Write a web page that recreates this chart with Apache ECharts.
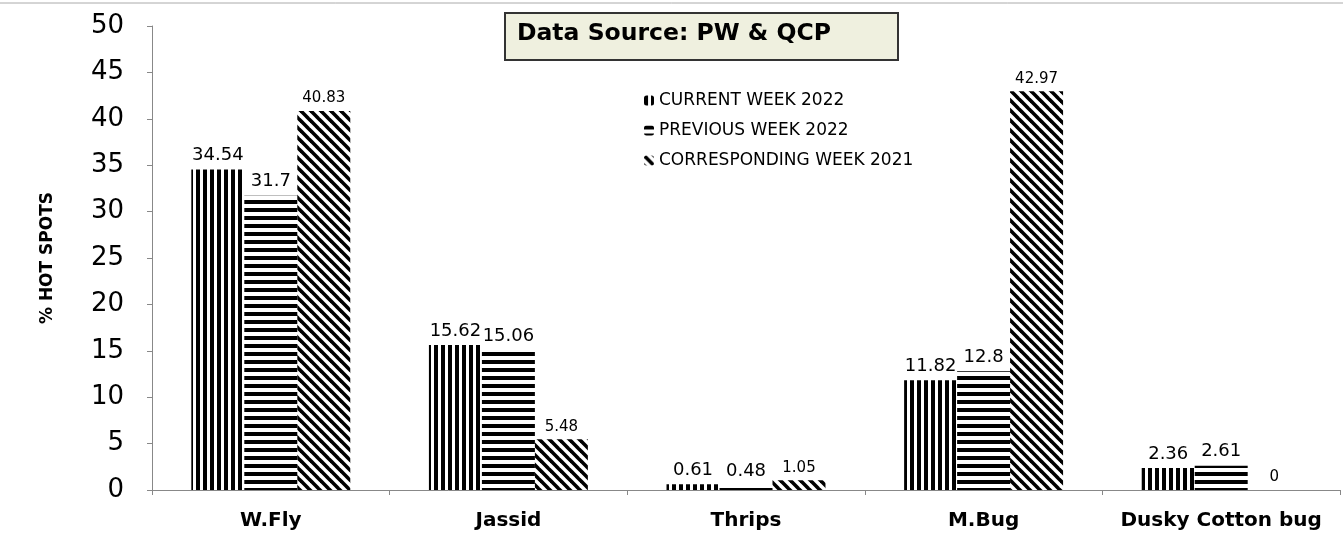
<!DOCTYPE html>
<html>
<head>
<meta charset="utf-8">
<script src="https://cdn.jsdelivr.net/npm/echarts@6/dist/echarts.min.js"></script>
<style>
  html, body { margin: 0; padding: 0; background: #fff; }
  #chart { width: 1343px; height: 537px; }
</style>
</head>
<body>
<div id="chart"></div>
<script>
var categories = ['W.Fly', 'Jassid', 'Thrips', 'M.Bug', 'Dusky Cotton bug'];
var seriesNames = ['CURRENT WEEK 2022', 'PREVIOUS WEEK 2022', 'CORRESPONDING WEEK 2021'];
var currentWeek = [34.54, 15.62, 0.61, 11.82, 2.36];
var previousWeek = [31.7, 15.06, 0.48, 12.8, 2.61];
var corrWeek = [40.83, 5.48, 1.05, 42.97, 0];
var yTicks = [0, 5, 10, 15, 20, 25, 30, 35, 40, 45, 50];

var font = 'DejaVu Sans';

// pattern tiles
function stripes(kind) {
  var c = document.createElement('canvas');
  var ctx = c.getContext('2d');
  ctx.fillStyle = '#000';
  if (kind == 'v') {
    c.width = 7; c.height = 7;
    ctx.fillRect(0, 0, 4, 7);
  } else if (kind == 'h') {
    c.width = 8; c.height = 8;
    ctx.fillRect(0, 0, 8, 4);
  } else {
    var s = 10;
    c.width = s; c.height = s;
    ctx.strokeStyle = '#000';
    ctx.lineWidth = 3.6;
    for (var k = -1; k <= 1; k++) {
      ctx.beginPath();
      ctx.moveTo(-1, k * s - 1);
      ctx.lineTo(s + 1, s + k * s + 1);
      ctx.stroke();
    }
  }
  return c;
}

var patterns = [stripes('v'), stripes('h'), stripes('d')];
var values = [currentWeek, previousWeek, corrWeek];
var labelSizes = [18, 18, 15];

var series = [];
for (var i = 0; i < 3; i++) {
  series.push({
    name: seriesNames[i],
    type: 'bar',
    data: values[i],
    barWidth: '22.3%',
    barGap: '0%',
    itemStyle: { color: { image: patterns[i], repeat: 'repeat' } },
    label: {
      show: true,
      position: 'top',
      distance: 5,
      color: '#000',
      fontFamily: font,
      fontSize: labelSizes[i]
    }
  })
}

var myChart = echarts.init(document.getElementById('chart'));
myChart.setOption({
  animation: false,
  grid: { left: 152, right: 3, top: 26, bottom: 47, containLabel: false },
  legend: {
    data: seriesNames,
    orient: 'vertical',
    left: 639,
    top: 87,
    itemWidth: 10,
    itemHeight: 10,
    itemGap: 13,
    textStyle: { color: '#000', fontFamily: font, fontSize: 17 }
  },
  xAxis: {
    type: 'category',
    data: categories,
    axisLine: { lineStyle: { color: '#888' } },
    axisTick: { show: true, length: 5, lineStyle: { color: '#888' } },
    axisLabel: { interval: 0, hideOverlap: false, color: '#000', fontFamily: font, fontSize: 20, fontWeight: 'bold', margin: 21 }
  },
  yAxis: {
    type: 'value',
    min: yTicks[0],
    max: yTicks[yTicks.length - 1],
    interval: 5,
    name: '% HOT SPOTS',
    nameLocation: 'middle',
    nameGap: 96,
    nameTextStyle: { color: '#000', fontFamily: font, fontSize: 17, fontWeight: 'bold' },
    axisLine: { show: true, lineStyle: { color: '#888' } },
    axisTick: { show: true, length: 5, lineStyle: { color: '#888' } },
    splitLine: { show: false },
    axisLabel: { color: '#000', fontFamily: font, fontSize: 26, margin: 28 }
  },
  graphic: [
    { type: 'line', shape: { x1: 0, y1: 3, x2: 1343, y2: 3 }, style: { stroke: '#aaa', lineWidth: 1 } },
    {
      type: 'rect',
      shape: { x: 505, y: 13, width: 393, height: 47 },
      style: { fill: '#eff0df', stroke: '#333', lineWidth: 2 }
    },
    {
      type: 'text',
      left: 517,
      top: 22,
      style: { text: 'Data Source: PW & QCP', fill: '#000', font: 'bold 23.5px "DejaVu Sans"' }
    }
  ],
  series: series
});
</script>
</body>
</html>
